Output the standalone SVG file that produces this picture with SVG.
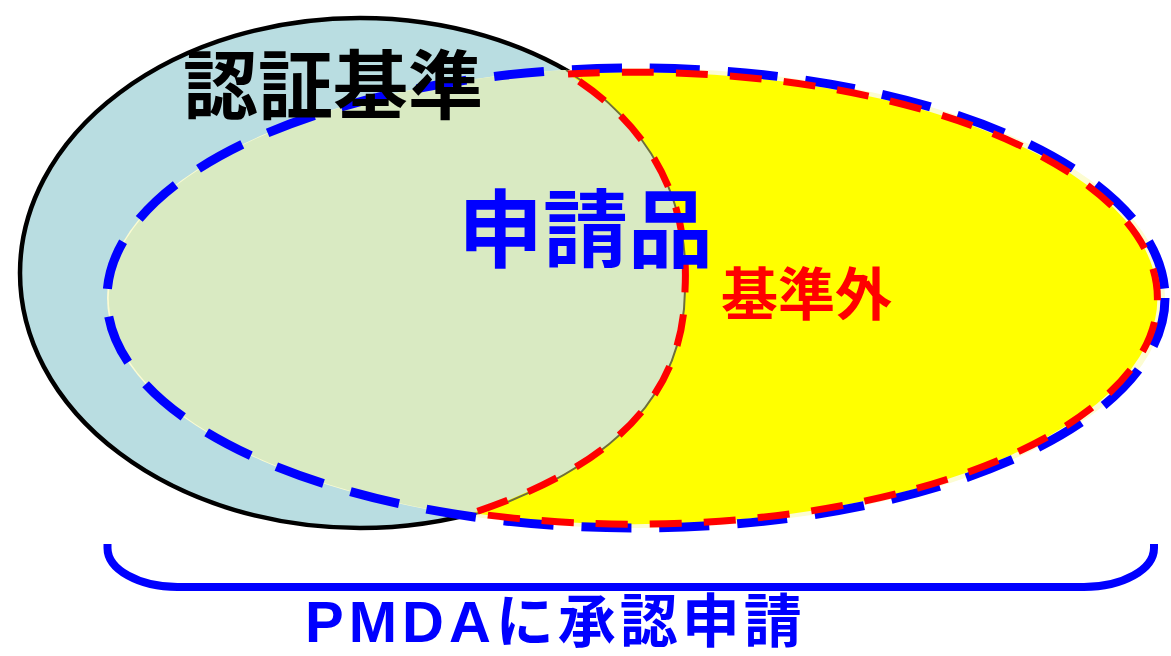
<svg xmlns="http://www.w3.org/2000/svg" width="1171" height="656" viewBox="0 0 1171 656">
<defs>
<style>
.lbl{font-family:"Noto Sans CJK JP","Noto Sans CJK SC",sans-serif;font-weight:700;}
.lbl2{font-family:"Liberation Sans","Noto Sans CJK JP",sans-serif;font-weight:700;}
.blue-dash{fill:none;stroke:#0000ff;stroke-width:9;stroke-dasharray:50 28;}
.red-dash{fill:none;stroke:#ff0000;stroke-width:7;stroke-dasharray:32 22;}
</style>
</defs>
<rect width="1171" height="656" fill="#ffffff"/>
<g id="node-ninsho-kijun">
<ellipse cx="360" cy="273" rx="340" ry="255" fill="#b9dde1" stroke="#000000" stroke-width="4.5"/>
</g>
<g id="node-shinseihin">
<ellipse cx="636" cy="298" rx="529" ry="230" fill="#fcfcd2"/>
<path d="M566,70 A529,230 0 0 0 470,516 C620,465 684,390 685,290 C690,200 650,125 566,70 Z" fill="#d9eac2"/>
</g>
<g id="node-kijungai">
<path d="M568,74 A523,226 0 1 1 472,513 C620,465 684,390 685,290 C690,200 650,125 568,74 Z" fill="#ffff00"/>
<path d="M470,516 C620,465 684,390 685,290 C690,200 650,125 566,70" fill="none" stroke="#6e6e3c" stroke-width="2"/>
</g>
<g id="outlines">
<ellipse class="blue-dash" cx="636" cy="298" rx="529" ry="230"/>
<path class="red-dash" d="M568,74 A523,226 0 1 1 472,513 C620,465 684,390 685,290 C690,200 650,125 568,74 Z"/>
</g>
<g id="labels">
<text id="label-ninsho" class="lbl" x="183" y="113" font-size="75" fill="#000000">認証基準</text>
<text id="label-shinsei" class="lbl" x="458" y="261" font-size="85" fill="#0000ff">申請品</text>
<text id="label-kijungai" class="lbl" x="721" y="315" font-size="57" fill="#ff0000">基準外</text>
</g>
<g id="connectors">
<path d="M107.5,544 L107.5,548 A70,39 0 0 0 177.5,587 L1084,587 A70,39 0 0 0 1154,548 L1154,544" fill="none" stroke="#0000ff" stroke-width="8"/>
</g>
<g id="node-pmda">
<text class="lbl2" x="305" y="642" font-size="58" fill="#0000ff"><tspan letter-spacing="5">PMDA</tspan><tspan letter-spacing="4">に承認申請</tspan></text>
</g>
</svg>
